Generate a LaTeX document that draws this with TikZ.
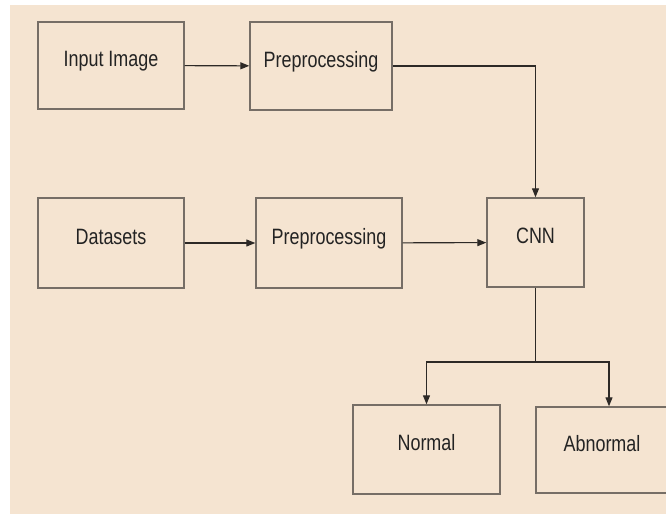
\documentclass[tikz,border=0pt]{standalone}
\usepackage{fontspec}
\setmainfont{Liberation Sans}
\usepackage{xcolor}
\usepackage{graphicx}
\usetikzlibrary{shapes, arrows, positioning, arrows.meta}

\definecolor{fondo}{RGB}{245,228,209}
\definecolor{borde}{RGB}{118,110,102}
\definecolor{linea}{RGB}{45,41,38}
\definecolor{texto}{RGB}{35,35,35}
\newcommand{\rotulo}[1]{\scalebox{0.97}[1.2]{#1}}

\begin{document}
\begin{tikzpicture}[x=1pt, y=-1pt,
        caja/.style={draw=borde, line width=1.4pt, rectangle, text=texto,
            font=\fontsize{18.5}{22}\selectfont, text height=13pt, text depth=10.5pt,
            inner sep=0pt},
        flecha/.style={draw=linea, line width=1.1pt, -{Triangle[length=9pt,width=7pt]}}]
        % Fondo del diagrama
        \path[use as bounding box] (0,0) rectangle (666,514);
        \clip (0,0) rectangle (666,514);
        \fill[fondo] (10,5) rectangle (666,514);

        % Cajas de la primera fila
        \node[caja, minimum width=146pt, minimum height=87pt] (imagen) at (111,65.5) {\rotulo{Input Image}};
        \node[caja, minimum width=142pt, minimum height=88pt] (prepA) at (321,66) {\rotulo{Preprocessing}};

        % Cajas de la segunda fila
        \node[caja, minimum width=146pt, minimum height=90pt] (datos) at (111,243) {\rotulo{Datasets}};
        \node[caja, minimum width=146pt, minimum height=90pt] (prepB) at (329,243) {\rotulo{Preprocessing}};
        \node[caja, minimum width=97pt, minimum height=89pt] (cnn) at (535.5,242.5) {\rotulo{CNN}};

        % Cajas de salida
        \node[caja, minimum width=147pt, minimum height=89pt] (normal) at (426.5,449.5) {\rotulo{Normal}};
        \node[caja, minimum width=132pt, minimum height=86pt] (anormal) at (602,450) {\rotulo{Abnormal}};

        % Conexiones
        \draw[flecha] (imagen) -- (prepA);
        \draw[flecha] (prepA.east) -| (cnn.north);
        \draw[flecha] (datos) -- (prepB);
        \draw[flecha] (prepB) -- (cnn);
        \coordinate (rama) at (535.5,362);
        \draw[draw=linea, line width=1.1pt] (cnn.south) -- (rama);
        \draw[flecha] (rama) -| (normal.north);
        \draw[flecha] (rama) -| ([xshift=7pt]anormal.north);
    \end{tikzpicture}
\end{document}
